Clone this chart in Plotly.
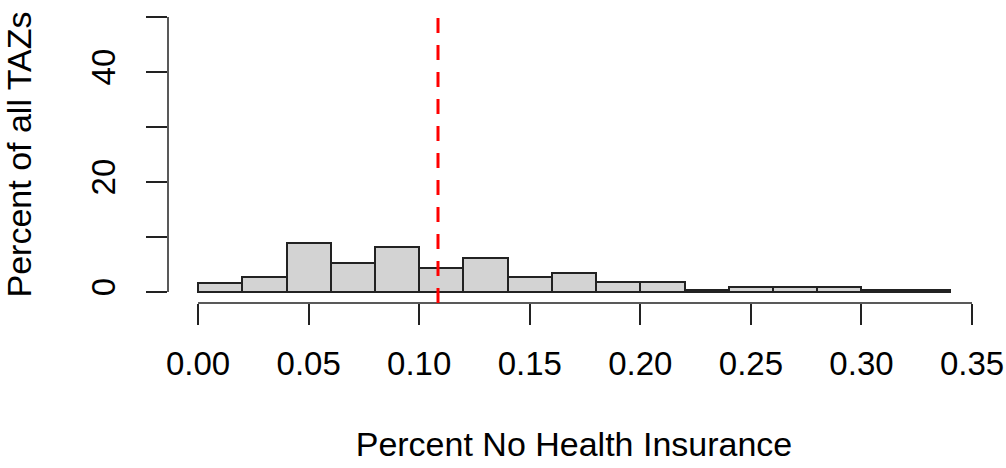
import plotly.graph_objects as go

# Histogram data (bins of width 0.02)
bin_edges = [0.00, 0.02, 0.04, 0.06, 0.08, 0.10, 0.12, 0.14, 0.16, 0.18,
             0.20, 0.22, 0.24, 0.26, 0.28, 0.30, 0.32, 0.34]
percent_tazs = [1.6, 2.8, 9.0, 5.3, 8.1, 4.4, 6.25, 2.7, 3.45, 1.8,
                1.8, 0.3, 0.9, 0.9, 0.9, 0.3, 0.3]
mean_value = 0.1085

x_tick_vals = [0.00, 0.05, 0.10, 0.15, 0.20, 0.25, 0.30, 0.35]
x_tick_text = ["0.00", "0.05", "0.10", "0.15", "0.20", "0.25", "0.30", "0.35"]
y_tick_vals = [0, 10, 20, 30, 40, 50]
y_tick_text = ["0", "", "20", "", "40", ""]

centers = [(bin_edges[i] + bin_edges[i + 1]) / 2 for i in range(len(percent_tazs))]
widths = [bin_edges[i + 1] - bin_edges[i] for i in range(len(percent_tazs))]

FONT = "Liberation Sans, Arial, sans-serif"
EDGE = "#222222"

fig = go.Figure()
fig.add_trace(go.Bar(
    x=centers, y=percent_tazs, width=widths,
    marker=dict(color="#D3D3D3", line=dict(color=EDGE, width=2)),
    hoverinfo="x+y", showlegend=False,
))

fig.update_layout(
    width=1006, height=468,
    margin=dict(l=168, r=26, t=6, b=165, autoexpand=False),
    paper_bgcolor="white", plot_bgcolor="white",
    font=dict(family=FONT, size=33, color="black"),
    bargap=0,
    xaxis=dict(
        range=[-0.0136, 0.3536], showgrid=False, zeroline=False, showline=False,
        automargin=False, ticklabeloverflow="allow",
        tickmode="array", tickvals=x_tick_vals, ticktext=x_tick_text,
        ticks="outside", ticklen=21, tickwidth=1.5, tickcolor=EDGE,
        ticklabelstandoff=10, tickfont=dict(size=33),
        title=dict(text="Percent No Health Insurance", standoff=51,
                   font=dict(size=34, family=FONT)),
    ),
    yaxis=dict(
        range=[-2, 52], showgrid=False, zeroline=False, showline=False,
        automargin=False, ticklabeloverflow="allow",
        tickmode="array", tickvals=y_tick_vals, ticktext=y_tick_text,
        ticks="outside", ticklen=21, tickwidth=1.5, tickcolor=EDGE,
        tickangle=-90, ticklabelstandoff=18, tickfont=dict(size=33),
        title=dict(text="Percent of all TAZs", standoff=50,
                   font=dict(size=34, family=FONT)),
    ),
    shapes=[
        # R-style axis lines spanning first to last tick
        dict(type="line", xref="x", yref="paper", x0=0.0, x1=0.35, y0=0, y1=0,
             line=dict(color=EDGE, width=1.5)),
        dict(type="line", xref="paper", yref="y", x0=0, x1=0, y0=0, y1=50,
             line=dict(color=EDGE, width=1.5)),
        # mean line
        dict(type="line", xref="x", yref="paper", x0=mean_value, x1=mean_value,
             y0=0, y1=1, line=dict(color="red", width=3, dash="15px,12px")),
    ],
)

fig.write_html(
    "out.html",
    config={"displayModeBar": False},
    post_script="document.body.style.margin='0px';document.body.style.overflow='hidden';",
)
